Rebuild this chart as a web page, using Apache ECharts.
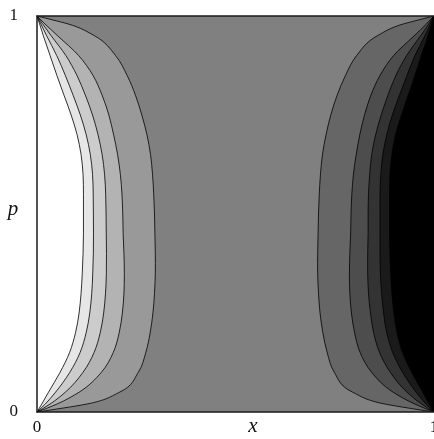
<!DOCTYPE html>
<html><head><meta charset="utf-8">
<script src="https://cdn.jsdelivr.net/npm/echarts@6/dist/echarts.min.js"></script>
<style>html,body{margin:0;padding:0;background:#fff;overflow:hidden}#c{width:434px;height:439px}</style>
</head><body><div id="c"></div>
<script>
// probability levels (vertical axis) at which each contour was read
const pGrid = [0, 0.01, 0.02, 0.05, 0.1, 0.15, 0.2, 0.25, 0.3, 0.35, 0.4, 0.45, 0.5, 0.55, 0.6, 0.65, 0.7, 0.75, 0.8, 0.85, 0.9, 0.95, 0.98, 0.99, 1];

// left contours (x at each p), innermost first
const leftContour1 = [0, .006, .012, .029, .058, .082, .097, .106, .111, .114, .116, .117, .117, .117, .116, .111, .101, .086, .068, .050, .033, .016, .0065, .0033, 0];
const leftContour2 = [0, .0105, .0207, .0467, .0825, .1085, .1238, .1329, .1379, .1404, .1419, .1423, .142, .1416, .1399, .1343, .124, .1092, .0909, .0713, .0497, .0244, .0097, .0048, 0];
const leftContour3 = [0, .0169, .0327, .0713, .1157, .1437, .1592, .1679, .1726, .1747, .175, .1745, .174, .173, .1702, .1641, .1538, .1399, .1218, .1006, .0727, .0358, .0141, .007, 0];
const leftContour4 = [0, .026, .050, .106, .162, .192, .207, .215, .219, .220, .219, .217, .216, .214, .210, .203, .193, .181, .164, .141, .105, .052, .020, .010, 0];
const leftContour5 = [0, .066, .125, .208, .255, .274, .285, .292, .296, .298, .298, .297, .296, .294, .291, .286, .277, .264, .248, .227, .198, .145, .078, .040, 0];

// right contours (x at each p), from the middle band outward
const rightContour1 = [1, .935, .877, .795, .749, .731, .720, .713, .709, .707, .707, .708, .709, .711, .714, .719, .728, .740, .756, .777, .805, .857, .923, .961, 1];
const rightContour2 = [1, .975, .952, .897, .843, .814, .800, .792, .788, .787, .788, .790, .791, .793, .797, .804, .813, .825, .841, .864, .898, .950, .981, .990, 1];
const rightContour3 = [1, .984, .969, .932, .890, .863, .848, .840, .835, .833, .833, .834, .834, .835, .838, .843, .853, .867, .884, .904, .931, .966, .987, .993, 1];
const rightContour4 = [1, .990, .980, .955, .921, .896, .881, .873, .868, .865, .864, .864, .864, .864, .866, .871, .881, .895, .913, .932, .952, .977, .991, .995, 1];
const rightContour5 = [1, .994, .988, .972, .944, .921, .907, .899, .894, .891, .889, .888, .888, .888, .889, .894, .903, .918, .935, .952, .968, .985, .994, .997, 1];

// fill levels
const leftFills = ['#ffffff', '#e6e6e6', '#cccccc', '#b3b3b3', '#999999'];
const middleFill = '#808080';
const rightFills = ['#666666', '#4d4d4d', '#333333', '#1a1a1a', '#000000'];

const xTicks = [0, 1];
const yTicks = [0, 1];

const leftContours = [leftContour1, leftContour2, leftContour3, leftContour4, leftContour5];
const rightContours = [rightContour1, rightContour2, rightContour3, rightContour4, rightContour5];

const regions = [{kind: 'bg', color: middleFill}];
for (let k = 4; k >= 0; k--) regions.push({kind: 'curve', xs: leftContours[k], color: leftFills[k]});
for (let k = 0; k < 5; k++) regions.push({kind: 'curve', xs: rightContours[k], color: rightFills[k]});
const lines = leftContours.concat(rightContours);

const serif = '"Liberation Serif", "DejaVu Serif", serif';
const axisLineStyle = {color: '#1a1a1a', width: 1.5};

// cubic Hermite curve (x as a function of pixel y) through pixel points, as SVG path
function curvePath(pts) {
  const n = pts.length;
  const t = pts.map(p => p[1]), v = pts.map(p => p[0]);
  const h = [], s = [], m = new Array(n).fill(0);
  for (let i = 0; i < n - 1; i++) { h[i] = t[i + 1] - t[i]; s[i] = (v[i + 1] - v[i]) / h[i]; }
  for (let i = 1; i < n - 1; i++) {
    const h0 = h[i - 1], h1 = h[i], s0 = s[i - 1], s1 = s[i];
    m[i] = (s0 * h1 + s1 * h0) / (h0 + h1);
  }
  m[0] = (3 * s[0] - m[1]) / 2;
  m[n - 1] = (3 * s[n - 2] - m[n - 2]) / 2;
  let d = 'M' + v[0] + ' ' + t[0];
  for (let i = 0; i < n - 1; i++) {
    const dt = h[i] / 3;
    d += ' C' + (v[i] + dt * m[i]) + ' ' + (t[i] + dt) + ' ' +
         (v[i + 1] - dt * m[i + 1]) + ' ' + (t[i + 1] - dt) + ' ' + v[i + 1] + ' ' + t[i + 1];
  }
  return d;
}

const chart = echarts.init(document.getElementById('c'), null, {renderer: 'canvas'});
chart.setOption({
  animation: false,
  grid: {left: 37, top: 16, width: 397, height: 396, containLabel: false, outerBoundsMode: 'none'},
  xAxis: [
    {type: 'value', min: 0, max: 1, interval: 1, position: 'bottom', z: 10,
     axisLine: {show: true, onZero: false, lineStyle: axisLineStyle},
     axisTick: {show: false}, splitLine: {show: false},
     axisLabel: {fontFamily: serif, fontSize: 17, color: '#111', margin: 7, hideOverlap: false,
       formatter: v => xTicks.indexOf(v) >= 0 ? String(v) : ''}},
    {type: 'value', min: 0, max: 1, position: 'top', z: 10,
     axisLine: {show: true, onZero: false, lineStyle: axisLineStyle},
     axisTick: {show: false}, splitLine: {show: false}, axisLabel: {show: false}}
  ],
  yAxis: {type: 'value', min: 0, max: 1, interval: 1, z: 10,
    axisLine: {show: true, onZero: false, lineStyle: axisLineStyle},
    axisTick: {show: false}, splitLine: {show: false},
    axisLabel: {fontFamily: serif, fontSize: 17, color: '#111', margin: 19,
      formatter: v => yTicks.indexOf(v) >= 0 ? String(v) : ''}},
  graphic: [
    {type: 'text', x: 13, y: 209, z: 20, style: {text: 'p', font: 'italic 21px ' + serif, fill: '#111', align: 'center', verticalAlign: 'middle'}},
    {type: 'text', x: 253, y: 426, z: 20, style: {text: 'x', font: 'italic 21px ' + serif, fill: '#111', align: 'center', verticalAlign: 'middle'}}
  ],
  series: [
    {type: 'custom', coordinateSystem: 'cartesian2d', clip: true, z: 1, silent: true,
     data: regions.map((r, i) => [i]),
     renderItem: function (params, api) {
       const r = regions[params.dataIndex];
       if (r.kind === 'bg') {
         const pts = [[0, 0], [1, 0], [1, 1], [0, 1]].map(d => api.coord(d));
         return {type: 'polygon', shape: {points: pts}, style: {fill: r.color}};
       }
       const pts = pGrid.map((p, i) => api.coord([r.xs[i], p]));
       return {type: 'path', shape: {pathData: curvePath(pts) + ' Z'}, style: {fill: r.color, stroke: null}};
     }},
    {type: 'custom', coordinateSystem: 'cartesian2d', clip: true, z: 2, silent: true,
     data: lines.map((l, i) => [i]),
     renderItem: function (params, api) {
       const xs = lines[params.dataIndex];
       const pts = pGrid.map((p, i) => api.coord([xs[i], p]));
       return {type: 'path', shape: {pathData: curvePath(pts)},
               style: {fill: null, stroke: '#000', lineWidth: 0.8}};
     }}
  ]
});
</script>
</body></html>
